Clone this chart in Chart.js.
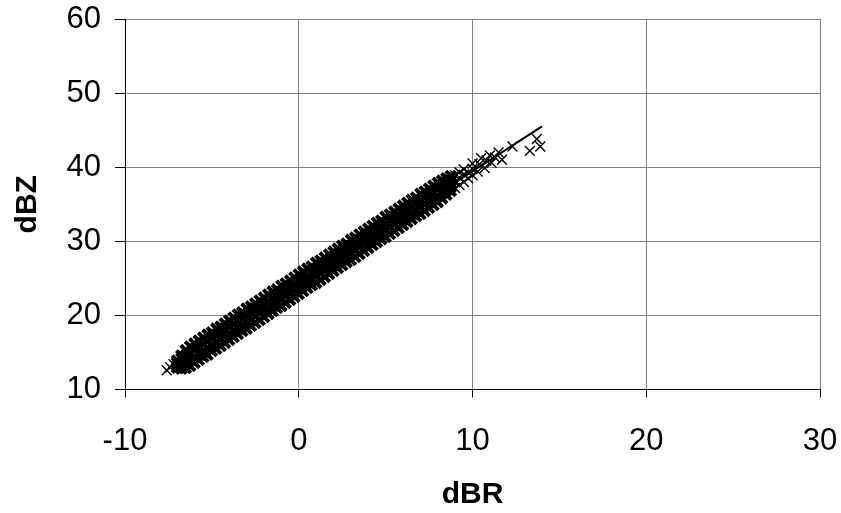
<!DOCTYPE html>
<html>
<head>
<meta charset="utf-8">
<script src="https://cdn.jsdelivr.net/npm/chart.js@4/dist/chart.umd.min.js"></script>
<style>
  html, body { margin: 0; padding: 0; background: #fff; }
  #wrap { width: 841px; height: 513px; position: relative; }
</style>
</head>
<body>
<div id="wrap"><canvas id="chart"></canvas></div>
<script>
// dBR values of the dense band (one column of marks per value)
const dbrGrid = [-7, -6.75, -6.5, -6.25, -6, -5.75, -5.5, -5.25, -5, -4.75, -4.5, -4.25, -4, -3.75, -3.5, -3.25,
  -3, -2.75, -2.5, -2.25, -2, -1.75, -1.5, -1.25, -1, -0.75, -0.5, -0.25, 0, 0.25, 0.5, 0.75,
  1, 1.25, 1.5, 1.75, 2, 2.25, 2.5, 2.75, 3, 3.25, 3.5, 3.75, 4, 4.25, 4.5, 4.75,
  5, 5.25, 5.5, 5.75, 6, 6.25, 6.5, 6.75, 7, 7.25, 7.5, 7.75, 8, 8.25, 8.5, 8.75];

// dBZ: lower edge, two inner rows, upper edge
const dbzLow = [12.9, 12.8, 12.9, 13.2, 13.6, 14.0, 14.4, 14.7, 15.2, 15.5, 15.9, 16.3, 16.7, 17.1, 17.5, 17.9,
  18.2, 18.6, 19.0, 19.4, 19.8, 20.2, 20.6, 21.0, 21.3, 21.7, 22.1, 22.5, 22.9, 23.3, 23.7, 24.1,
  24.4, 24.8, 25.2, 25.6, 26.0, 26.4, 26.8, 27.2, 27.5, 27.9, 28.3, 28.7, 29.1, 29.5, 29.9, 30.3,
  30.6, 31.0, 31.4, 31.8, 32.2, 32.6, 33.0, 33.4, 33.7, 34.1, 34.5, 34.9, 35.3, 35.8, 36.3, 36.8];
const dbzMidLow = [13.1, 13.3, 13.7, 14.1, 14.4, 14.8, 15.2, 15.6, 16.0, 16.4, 16.8, 17.2, 17.5, 17.9, 18.3, 18.7,
  19.1, 19.5, 19.9, 20.3, 20.7, 21.0, 21.4, 21.8, 22.2, 22.6, 23.0, 23.4, 23.7, 24.1, 24.5, 24.9,
  25.3, 25.7, 26.1, 26.5, 26.8, 27.2, 27.6, 28.0, 28.4, 28.8, 29.2, 29.6, 29.9, 30.3, 30.7, 31.1,
  31.5, 31.9, 32.3, 32.7, 33.0, 33.4, 33.8, 34.2, 34.6, 35.0, 35.4, 35.8, 36.1, 36.5, 36.9, 37.3];
const dbzMidHigh = [13.6, 14.2, 14.6, 14.9, 15.4, 15.7, 16.1, 16.5, 16.9, 17.3, 17.7, 18.0, 18.5, 18.8, 19.2, 19.6,
  20.0, 20.4, 20.8, 21.1, 21.5, 21.9, 22.3, 22.7, 23.1, 23.5, 23.9, 24.2, 24.7, 25.0, 25.4, 25.8,
  26.2, 26.6, 27.0, 27.3, 27.8, 28.1, 28.5, 28.9, 29.3, 29.7, 30.1, 30.4, 30.9, 31.2, 31.6, 32.0,
  32.4, 32.8, 33.2, 33.5, 34.0, 34.3, 34.7, 35.1, 35.5, 35.9, 36.3, 36.6, 37.1, 37.4, 37.8, 38.2];
const dbzHigh = [13.9, 14.6, 15.3, 15.8, 16.2, 16.6, 17.0, 17.4, 17.7, 18.2, 18.5, 18.9, 19.3, 19.7, 20.1, 20.4,
  20.9, 21.2, 21.6, 22.0, 22.4, 22.8, 23.2, 23.5, 24.0, 24.3, 24.7, 25.1, 25.5, 25.9, 26.3, 26.6,
  27.1, 27.4, 27.8, 28.2, 28.6, 29.0, 29.4, 29.7, 30.2, 30.5, 30.9, 31.3, 31.7, 32.1, 32.5, 32.8,
  33.3, 33.6, 34.0, 34.4, 34.8, 35.2, 35.6, 35.9, 36.4, 36.7, 37.1, 37.5, 37.9, 38.2, 38.5, 38.8];

// scattered marks at both ends of the band
const sparseDbr = [-7.6, -7.4, -7.2, 9.0, 9.0, 9.0, 9.25, 9.25, 9.25, 9.5, 9.5, 9.5, 9.75, 9.75, 10.0, 10.0,
  10.0, 10.3, 10.4, 10.5, 10.7, 10.8, 11.0, 11.1, 11.3, 11.5, 11.7, 12.3, 13.3, 13.7, 13.9];
const sparseDbz = [12.6, 13.0, 13.4, 37.2, 38.0, 38.9, 37.6, 38.6, 39.3, 38.0, 39.0, 39.7, 38.5, 39.3, 38.9, 39.8,
  40.5, 39.4, 40.4, 41.2, 39.9, 40.9, 41.6, 40.6, 41.3, 42.0, 41.0, 42.8, 42.2, 43.8, 42.8];

// fitted line
const fitDbr = [-7.5, 14];
const fitDbz = [12.9, 45.5];

const xTicks = [-10, 0, 10, 20, 30];
const yTicks = [10, 20, 30, 40, 50, 60];

const bandPoints = [];
[dbzLow, dbzMidLow, dbzMidHigh, dbzHigh].forEach((row) => {
  dbrGrid.forEach((x, i) => bandPoints.push({ x: x, y: row[i] }));
});
const sparsePoints = sparseDbr.map((x, i) => ({ x: x, y: sparseDbz[i] }));
const fitPoints = fitDbr.map((x, i) => ({ x: x, y: fitDbz[i] }));

const tickFont = { family: "'Liberation Sans', Arial, sans-serif", size: 31 };
const titleFont = { family: "'Liberation Sans', Arial, sans-serif", size: 30, weight: "bold" };

new Chart(document.getElementById("chart"), {
  type: "scatter",
  data: {
    datasets: [
      {
        label: "fit",
        data: fitPoints,
        showLine: true,
        borderColor: "#000",
        borderWidth: 2,
        pointRadius: 0,
        fill: false,
      },
      {
        label: "dBZ",
        data: sparsePoints,
        pointStyle: "crossRot",
        pointRadius: 7,
        borderColor: "#000",
        borderWidth: 1.4,
      },
      {
        label: "dBZ band",
        data: bandPoints,
        pointStyle: "crossRot",
        pointRadius: 7,
        borderColor: "#000",
        borderWidth: 4,
      },
    ],
  },
  options: {
    responsive: true,
    maintainAspectRatio: false,
    animation: false,
    events: [],
    layout: { padding: { left: 0, right: 21, top: 19, bottom: 0 } },
    plugins: { legend: { display: false }, tooltip: { enabled: false } },
    scales: {
      x: {
        type: "linear",
        min: -10,
        max: 30,
        afterBuildTicks: (scale) => { scale.ticks = xTicks.map((v) => ({ value: v })); },
        afterFit: (scale) => {
          scale.height = 123.5;
          scale.paddingLeft = 0;
          scale.paddingRight = 0;
        },
        ticks: { font: tickFont, color: "#000", padding: 25 },
        grid: { color: "#808080", lineWidth: 1, tickColor: "#000", tickLength: 8 },
        border: { color: "#000", width: 1 },
        title: { display: true, text: "dBR", font: titleFont, color: "#000", padding: { top: 0, bottom: 0 } },
      },
      y: {
        type: "linear",
        min: 10,
        max: 60,
        afterBuildTicks: (scale) => { scale.ticks = yTicks.map((v) => ({ value: v })); },
        afterFit: (scale) => {
          scale.width = 125;
          scale.paddingTop = 0;
          scale.paddingBottom = 0;
        },
        ticks: { font: tickFont, color: "#000", padding: 14 },
        grid: { color: "#808080", lineWidth: 1, tickColor: "#000", tickLength: 10 },
        border: { color: "#000", width: 1 },
        title: { display: true, text: "dBZ", font: titleFont, color: "#000", padding: { top: 10, bottom: 0 } },
      },
    },
  },
});
</script>
</body>
</html>
